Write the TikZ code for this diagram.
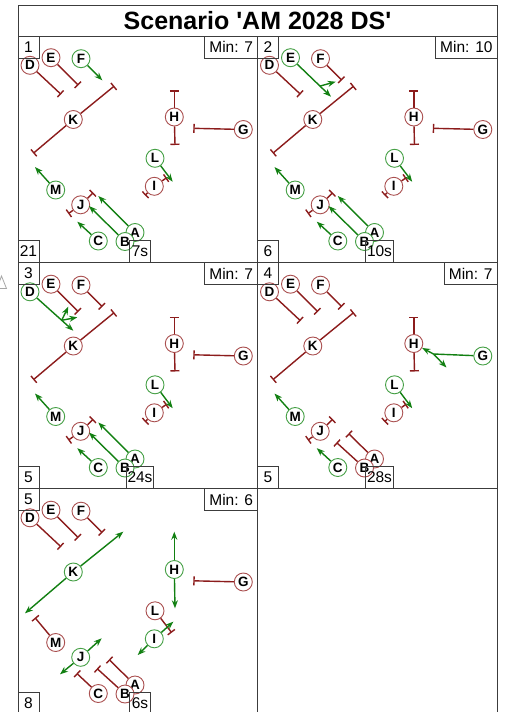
\documentclass[tikz,border=0pt]{standalone}
\usepackage{fontspec}
\setmainfont{Liberation Sans}[Ligatures=TeXOff]
\usetikzlibrary{arrows.meta}
\definecolor{lred}{RGB}{140,28,28}
\definecolor{lgreen}{RGB}{18,128,18}
\definecolor{nred}{RGB}{170,80,80}
\definecolor{ngreen}{RGB}{70,160,70}
\definecolor{frm}{RGB}{60,60,60}
\tikzset{
 rn/.style={circle,draw=nred,fill=white,minimum size=18pt,inner sep=0pt,line width=0.9pt,font=\bfseries\fontsize{13.5}{13.5}\selectfont},
 gn/.style={rn,draw=ngreen},
 rl/.style={draw=lred,line width=1.4pt,-{Bar[width=9pt]}},
 gl/.style={draw=lgreen,line width=1.4pt,-{Stealth[length=8pt,width=6pt]}},
 gline/.style={draw=lgreen,line width=1.4pt},
 frmline/.style={draw=frm,line width=1pt},
 lab/.style={draw=frm,line width=1pt,font=\fontsize{15.5}{15.5}\selectfont,minimum height=22pt,minimum width=21pt,inner xsep=1.5pt,inner ysep=0pt,outer sep=0pt},
}
\newcommand{\setpos}{%
 \coordinate (pD) at (12,29.3); \coordinate (pE) at (33,21.7); \coordinate (pF) at (63,22.7);
 \coordinate (pK) at (55.3,83.5); \coordinate (pH) at (156.3,81); \coordinate (pG) at (225.3,93.5);
 \coordinate (pL) at (137,122.3); \coordinate (pI) at (136.3,150.3); \coordinate (pM) at (37.7,154);
 \coordinate (pJ) at (62.7,168.8); \coordinate (pA) at (117,196.5); \coordinate (pB) at (107,205.5);
 \coordinate (pC) at (80.3,205);
 \coordinate (d1) at (43,58.3); \coordinate (e1) at (60.3,49.3); \coordinate (f1) at (84.3,44.3);
 \coordinate (k1) at (15.3,117.3); \coordinate (k2) at (96.3,50);
 \coordinate (h1) at (156.3,54.3); \coordinate (h2) at (157,109);
 \coordinate (g1) at (175.3,92.3); \coordinate (l1) at (154.7,145.7);
 \coordinate (i1) at (127,159.3); \coordinate (i2) at (148.7,141.7);
 \coordinate (m1) at (17,131);
 \coordinate (j1) at (50.3,177.7); \coordinate (j2) at (75.3,156.7);
 \coordinate (a1) at (80.3,160); \coordinate (b1) at (71,170); \coordinate (c1) at (59.3,185.7);
 \coordinate (aR) at (91,171); \coordinate (bR) at (79,180); \coordinate (cR) at (58.7,184.8);
}
\newcommand{\nd}[2]{\node[#2] (#1) at (p#1) {#1};}
\newcommand{\plabels}[4]{%
 \node[lab,anchor=north west] (num) at (0,0) {#1};
 \node[lab,anchor=north east,inner xsep=4.5pt] (min) at (239.5,0) {#2};
 \node[lab,anchor=south west] (cnt) at (0,226) {#3};
 \node[lab,anchor=south] (tim) at (122,226) {#4};
 \draw[frmline] (0,0) rectangle (239.5,226);
}
\newcommand{\stdlines}{%
 \draw[rl] (K) -- (k1); \draw[rl] (K) -- (k2);
 \draw[rl] (H) -- (h1); \draw[rl] (H) -- (h2);
 \draw[rl] (I) -- (i1); \draw[rl] (I) -- (i2);
 \draw[rl] (J) -- (j1); \draw[rl] (J) -- (j2);
 \draw[gl] (L) -- (l1); \draw[gl] (M) -- (m1);
}
\begin{document}
\begin{tikzpicture}[x=1pt,y=-1pt]
\useasboundingbox (0,0) rectangle (504,712);
\clip (0,0) rectangle (504,712);
\fill[white] (0,0) rectangle (504,712);
\draw[gray!70,line width=0.8pt] (-3,288.5) -- (1.5,276) -- (6.5,288.5) -- cycle;
\node[draw=frm,line width=1pt,minimum width=479pt,minimum height=31pt,anchor=north west,inner sep=0pt,outer sep=0pt,font=\bfseries\fontsize{25}{25}\selectfont] (title) at (18,5) {Scenario 'AM 2028 DS'};
\draw[frmline] (257.5,488.5) rectangle (497,716);
% panel 1
\begin{scope}[shift={(18,36)},name prefix=a-]
 \setpos
 \nd{D}{rn}\nd{E}{rn}\nd{F}{gn}\nd{K}{rn}\nd{H}{rn}\nd{G}{rn}\nd{L}{gn}\nd{I}{rn}\nd{M}{gn}\nd{J}{rn}\nd{C}{gn}\nd{A}{gn}\nd{B}{gn}
 \stdlines
 \draw[rl] (D) -- (d1); \draw[rl] (E) -- (e1); \draw[gl] (F) -- (f1);
 \draw[rl] (G) -- (g1);
 \draw[gl] (A) -- (a1); \draw[gl] (B) -- (b1); \draw[gl] (C) -- (c1);
 \plabels{1}{Min: 7}{21}{7s}
\end{scope}
% panel 2
\begin{scope}[shift={(257.5,36)},name prefix=b-]
 \setpos
 \nd{D}{rn}\nd{E}{gn}\nd{F}{rn}\nd{K}{rn}\nd{H}{rn}\nd{G}{rn}\nd{L}{gn}\nd{I}{rn}\nd{M}{gn}\nd{J}{rn}\nd{C}{gn}\nd{A}{gn}\nd{B}{gn}
 \stdlines
 \coordinate (e3) at (73.5,60.7); \coordinate (e2) at (62.5,50.1); \coordinate (e4) at (78.2,45.7);
 \draw[rl] (D) -- (d1); \draw[gl] (E) -- (e3); \draw[gl] (e2) -- (e4); \draw[rl] (F) -- (f1);
 \draw[rl] (G) -- (g1);
 \draw[gl] (A) -- (a1); \draw[gl] (B) -- (b1); \draw[gl] (C) -- (c1);
 \plabels{2}{Min: 10}{6}{10s}
\end{scope}
% panel 3
\begin{scope}[shift={(18,262.5)},name prefix=c-]
 \setpos
 \nd{D}{gn}\nd{E}{rn}\nd{F}{rn}\nd{K}{rn}\nd{H}{rn}\nd{G}{rn}\nd{L}{gn}\nd{I}{rn}\nd{M}{gn}\nd{J}{rn}\nd{C}{gn}\nd{A}{gn}\nd{B}{gn}
 \stdlines
 \coordinate (d3) at (55.3,68.2); \coordinate (d2) at (43.7,57.8); \coordinate (d4) at (50.3,44.2); \coordinate (d5) at (59.3,54.8);
 \draw[gl] (D) -- (d3); \draw[gl] (d2) -- (d4); \draw[gl] (d2) -- (d5);
 \draw[rl] (E) -- (e1); \draw[rl] (F) -- (f1);
 \draw[rl] (G) -- (g1);
 \draw[gl] (A) -- (a1); \draw[gl] (B) -- (b1); \draw[gl] (C) -- (c1);
 \plabels{3}{Min: 7}{5}{24s}
\end{scope}
% panel 4
\begin{scope}[shift={(257.5,262.5)},name prefix=d-]
 \setpos
 \nd{D}{rn}\nd{E}{rn}\nd{F}{rn}\nd{K}{rn}\nd{H}{rn}\nd{G}{gn}\nd{L}{gn}\nd{I}{rn}\nd{M}{gn}\nd{J}{rn}\nd{C}{gn}\nd{A}{rn}\nd{B}{rn}
 \stdlines
 \draw[rl] (D) -- (d1); \draw[rl] (E) -- (e1); \draw[rl] (F) -- (f1);
 \coordinate (g2) at (176,91.5); \coordinate (g3) at (189,105);
 \draw[gline] (G) -- (g2); \draw[gl] (g2) -- (H); \draw[gl] (g2) -- (g3);
 \draw[rl] (A) -- (aR); \draw[rl] (B) -- (bR); \draw[gl] (C) -- (c1);
 \plabels{4}{Min: 7}{5}{28s}
\end{scope}
% panel 5
\begin{scope}[shift={(18,488.5)},name prefix=e-]
 \setpos
 \nd{D}{rn}\nd{E}{rn}\nd{F}{rn}\nd{K}{gn}\nd{H}{gn}\nd{G}{rn}\nd{L}{rn}\nd{I}{gn}\nd{M}{rn}\nd{J}{gn}\nd{C}{rn}\nd{A}{rn}\nd{B}{rn}
 \coordinate (kg1) at (7,124.8); \coordinate (kg2) at (105.3,43.2);
 \coordinate (hg1) at (156.3,43.2); \coordinate (hg2) at (157,119.8);
 \coordinate (lr) at (153.7,144.2); \coordinate (mr) at (17,129.2);
 \coordinate (ig1) at (119.7,166.5); \coordinate (ig2) at (155.3,133.2);
 \coordinate (jg1) at (42,185.8); \coordinate (jg2) at (83.7,149.8);
 \draw[rl] (D) -- (d1); \draw[rl] (E) -- (e1); \draw[rl] (F) -- (f1);
 \draw[gl] (K) -- (kg1); \draw[gl] (K) -- (kg2);
 \draw[gl] (H) -- (hg1); \draw[gl] (H) -- (hg2);
 \draw[rl] (G) -- (g1); \draw[rl] (L) -- (lr); \draw[rl] (M) -- (mr);
 \draw[gl] (I) -- (ig1); \draw[gl] (I) -- (ig2);
 \draw[gl] (J) -- (jg1); \draw[gl] (J) -- (jg2);
 \draw[rl] (A) -- (aR); \draw[rl] (B) -- (bR); \draw[rl] (C) -- (cR);
 \plabels{5}{Min: 6}{8}{6s}
\end{scope}
\end{tikzpicture}
\end{document}
